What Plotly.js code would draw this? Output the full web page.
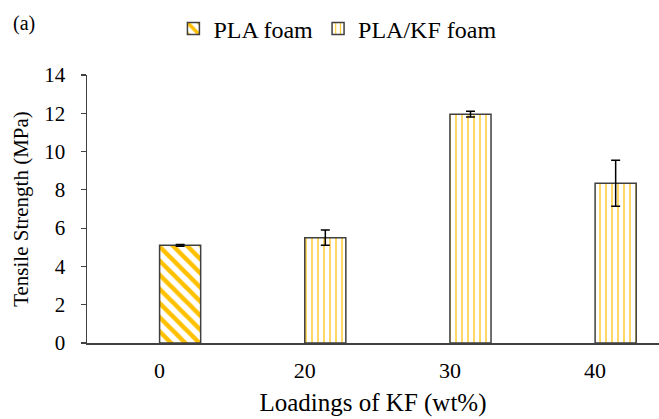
<!DOCTYPE html>
<html>
<head>
<meta charset="utf-8">
<script src="https://cdn.plot.ly/plotly-3.0.1.min.js"></script>
<style>html,body{margin:0;padding:0;background:#fff;overflow:hidden}</style>
</head>
<body>
<div id="chart" style="width:659px;height:419px"></div>
<script>
// Data
const categories = ['0', '20', '30', '40'];
const plaX = ['0'];
const plaY = [5.1];
const plaErr = [0.05];
const kfX = ['20', '30', '40'];
const kfY = [5.5, 11.95, 8.35];
const kfErr = [0.4, 0.15, 1.2];

const font = 'Liberation Serif';
const lineCol = '#404040';

const traces = [
  {
    type: 'bar', name: 'PLA foam', x: plaX, y: plaY,
    offset: 0, width: 0.283,
    marker: {color: '#ffffff', line: {color: lineCol, width: 1.5},
      pattern: {shape: '\\', fgcolor: '#FFC000', bgcolor: '#ffffff', size: 10, solidity: 0.45}},
    error_y: {type: 'data', array: plaErr, visible: true, color: '#000000', thickness: 1.5, width: 4.5}
  },
  {
    type: 'bar', name: 'PLA/KF foam', x: kfX, y: kfY,
    offset: 0, width: 0.283,
    marker: {color: '#ffffff', line: {color: lineCol, width: 1.5},
      pattern: {shape: '|', fgcolor: '#FFCC33', bgcolor: '#ffffff', size: 6, solidity: 0.25}},
    error_y: {type: 'data', array: kfErr, visible: true, color: '#000000', thickness: 1.5, width: 4.5}
  }
];

const layout = {
  width: 659, height: 419,
  margin: {l: 87, r: 0, t: 75, b: 76},
  paper_bgcolor: '#ffffff', plot_bgcolor: '#ffffff',
  font: {family: font, size: 21, color: '#000000'},
  barmode: 'overlay',
  showlegend: true,
  legend: {orientation: 'h', xref: 'container', yref: 'container', x: 0.512, y: 1 - 29 / 419,
    xanchor: 'center', yanchor: 'middle', font: {family: font, size: 24, color: '#000'},
    itemwidth: 30, tracegroupgap: 0},
  xaxis: {
    type: 'category', categoryorder: 'array', categoryarray: categories,
    range: [-0.5, 3.44], showgrid: false, zeroline: false,
    showline: true, linecolor: lineCol, linewidth: 1.5,
    ticks: '', ticklabelstandoff: 7,
    tickfont: {family: font, size: 22, color: '#000'},
    title: {text: 'Loadings of KF (wt%)', font: {family: font, size: 25, color: '#000'}, standoff: 11}
  },
  yaxis: {
    range: [0, 14], dtick: 2, tick0: 0, showgrid: false, zeroline: false,
    showline: true, linecolor: lineCol, linewidth: 1.5,
    ticks: 'outside', ticklen: 5, tickcolor: lineCol, tickwidth: 1.2,
    ticklabelstandoff: 11,
    tickfont: {family: font, size: 21, color: '#000'},
    title: {text: 'Tensile Strength (MPa)', font: {family: font, size: 21, color: '#000'}, standoff: 10}
  },
  annotations: [{
    text: '(a)', xref: 'paper', yref: 'paper', x: (11 - 87) / 572, y: (343 - 24) / 268,
    xanchor: 'left', yanchor: 'middle', showarrow: false,
    font: {family: font, size: 20, color: '#000'}
  }]
};

Plotly.newPlot('chart', traces, layout, {displayModeBar: false, staticPlot: true});
</script>
</body>
</html>
